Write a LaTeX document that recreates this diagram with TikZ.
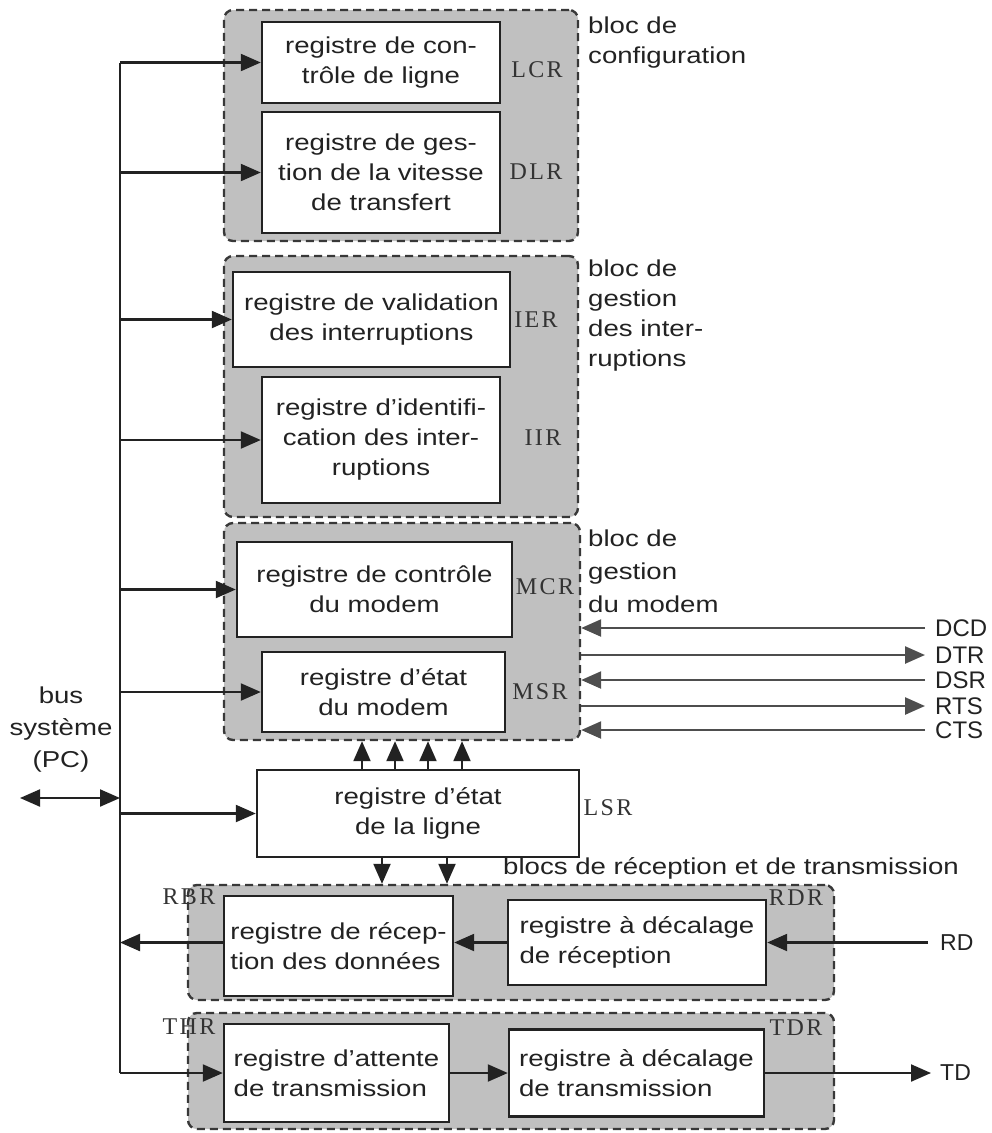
\documentclass[tikz,border=0pt]{standalone}
\usepackage{fontspec}
\setmainfont{Liberation Sans}[FakeStretch=1.2]
\newfontfamily\sigfont{Liberation Sans}
\newfontfamily\tagfont{Liberation Serif}[LetterSpace=10]
\usetikzlibrary{arrows.meta}
\definecolor{ink}{HTML}{222222}
\definecolor{blockfill}{HTML}{C0C0C0}
\definecolor{tagcol}{HTML}{333333}
\tikzset{
  block/.style={draw=ink!90, line width=2.4pt, dash pattern=on 8pt off 5pt, fill=blockfill, rounded corners=9pt, inner sep=0pt},
  regbox/.style={draw=ink, line width=2.4pt, fill=white, align=center, inner sep=2pt, font=\fontsize{23}{30}\selectfont, text=ink},
  regboxl/.style={regbox, align=left},
  tip/.tip={Triangle[length=20pt,width=17pt]},
  arr/.style={draw=ink, line width=2.2pt, -tip},
  wire/.style={draw=ink, line width=2.2pt},
  sigwire/.style={draw=ink!80, line width=2.5pt, -{Triangle[length=20pt,width=17pt]}},
  tag/.style={font=\tagfont\fontsize{24}{26}\selectfont, text=tagcol, inner sep=0pt},
  note/.style={align=left, inner sep=0pt, text=ink, anchor=north west},
  sig/.style={font=\sigfont\fontsize{24}{24}\selectfont, inner sep=0pt, anchor=west, text=ink}
}
\begin{document}
\begin{tikzpicture}[x=1pt,y=-1pt]
\useasboundingbox (0,0) rectangle (992,1133);
% dashed blocks
\node[block, minimum width=354, minimum height=231] (cfg) at (401,125.5) {};
\node[block, minimum width=354, minimum height=261] (itr) at (401,386.5) {};
\node[block, minimum width=356, minimum height=217] (mdm) at (402,631.5) {};
\node[block, minimum width=646, minimum height=115] (rcv) at (511,942.5) {};
\node[block, minimum width=646, minimum height=116] (trn) at (511,1071) {};
% registers
\node[regbox, minimum width=238, minimum height=81] (lcr) at (381,62.5) {registre de con-\\trôle de ligne};
\node[regbox, minimum width=238, minimum height=121] (dlr) at (381,172.5) {registre de ges-\\tion de la vitesse\\de transfert};
\node[regbox, minimum width=277, minimum height=95] (ier) at (371.5,319.5) {registre de validation\\des interruptions};
\node[regbox, minimum width=238, minimum height=126] (iir) at (381,440) {registre d'identifi-\\cation des inter-\\ruptions};
\node[regbox, minimum width=275, minimum height=95] (mcr) at (374.5,589.5) {registre de contrôle\\du modem};
\node[regbox, minimum width=243, minimum height=80] (msr) at (383.5,692) {registre d'état\\du modem};
\node[regbox, minimum width=322, minimum height=87] (lsr) at (418,813.5) {registre d'état\\de la ligne};
\node[regboxl, minimum width=229, minimum height=100] (rbr) at (338.5,946) {registre de récep-\\tion des données};
\node[regboxl, minimum width=258, minimum height=85] (rdr) at (637,942.5) {registre à décalage\\de réception};
\node[regboxl, minimum width=225, minimum height=98] (thr) at (336.5,1073) {registre d'attente\\de transmission};
\node[regboxl, minimum width=255, minimum height=87] (tdr) at (636.5,1073) {registre à décalage\\de transmission};
% register tags
\node[tag] (tlcr) at (537,70) {LCR};
\node[tag] (tdlr) at (536,172) {DLR};
\node[tag] (tier) at (536,320) {IER};
\node[tag] (tiir) at (543,438) {IIR};
\node[tag] (tmcr) at (545,587) {MCR};
\node[tag] (tmsr) at (540,692) {MSR};
\node[tag] (tlsr) at (608,808) {LSR};
\node[tag] (trbr) at (189,897) {RBR};
\node[tag] (trdr) at (796,898) {RDR};
\node[tag] (tthr) at (189,1027) {THR};
\node[tag] (ttdr) at (796,1028) {TDR};
% block captions
\node[note, font=\fontsize{23}{30}\selectfont] (ncfg) at (588,17) {bloc de\\configuration};
\node[note, font=\fontsize{23}{30}\selectfont] (nitr) at (588,260) {bloc de\\gestion\\des inter-\\ruptions};
\node[note, font=\fontsize{23}{33}\selectfont] (nmdm) at (588,530) {bloc de\\gestion\\du modem};
\node[anchor=west, inner sep=0pt, text=ink, font=\fontsize{23}{30}\selectfont] (nrt) at (503,868) {blocs de réception et de transmission};
\node[align=center, inner sep=0pt, text=ink, font=\fontsize{23}{32}\selectfont] (nbus) at (61,730) {bus\\système\\(PC)};
% bus
\coordinate (bus) at (120,0);
\coordinate (busext) at (20,798);
\draw[wire] (lcr.west -| bus) -- (thr.west -| bus);
\draw[draw=ink, line width=2.2pt, tip-tip] (busext) -- (busext -| bus);
\draw[arr] (lcr.west -| bus) -- (lcr.west);
\draw[arr] (dlr.west -| bus) -- (dlr.west);
\draw[arr] (ier.west -| bus) -- (ier.west);
\draw[arr] (iir.west -| bus) -- (iir.west);
\draw[arr] (mcr.west -| bus) -- (mcr.west);
\draw[arr] (msr.west -| bus) -- (msr.west);
\draw[arr] (lsr.west -| bus) -- (lsr.west);
\draw[arr] (thr.west -| bus) -- (thr.west);
% reception / transmission chain
\node[sig, font=\sigfont\fontsize{23}{23}\selectfont] (lrd) at (940,942.5) {RD};
\node[sig, font=\sigfont\fontsize{23}{23}\selectfont] (ltd) at (940,1073) {TD};
\coordinate (rdend) at (928,942.5);
\coordinate (tdend) at (931,1073);
\draw[arr] (rdend) -- (rdr.east);
\draw[arr] (rdr.west) -- (rdr.west -| rbr.east);
\draw[arr] (rdr.west -| rbr.west) -- (rdr.west -| bus);
\draw[arr] (thr.east) -- (thr.east -| tdr.west);
\draw[arr] (tdr.east) -- (tdend);
% LSR links
\foreach \xx/\nm in {362/u1,395/u2,428/u3,462/u4}{
  \coordinate (\nm) at (\xx,0);
  \draw[arr] (lsr.north -| \nm) -- (mdm.south -| \nm);
}
\foreach \xx/\nm in {382/d1,447/d2}{
  \coordinate (\nm) at (\xx,0);
  \draw[arr] (lsr.south -| \nm) -- (rcv.north -| \nm);
}
% modem signals
\coordinate (sigx) at (925,0);
\node[sig] (ldcd) at (935,628) {DCD};
\node[sig] (ldtr) at (935,655) {DTR};
\node[sig] (ldsr) at (935,680) {DSR};
\node[sig] (lrts) at (935,706) {RTS};
\node[sig] (lcts) at (935,730) {CTS};
\draw[sigwire] (ldcd.west -| sigx) -- (ldcd.west -| mdm.east);
\draw[sigwire] (ldtr.west -| mdm.east) -- (ldtr.west -| sigx);
\draw[sigwire] (ldsr.west -| sigx) -- (ldsr.west -| mdm.east);
\draw[sigwire] (lrts.west -| mdm.east) -- (lrts.west -| sigx);
\draw[sigwire] (lcts.west -| sigx) -- (lcts.west -| mdm.east);
\end{tikzpicture}
\end{document}
